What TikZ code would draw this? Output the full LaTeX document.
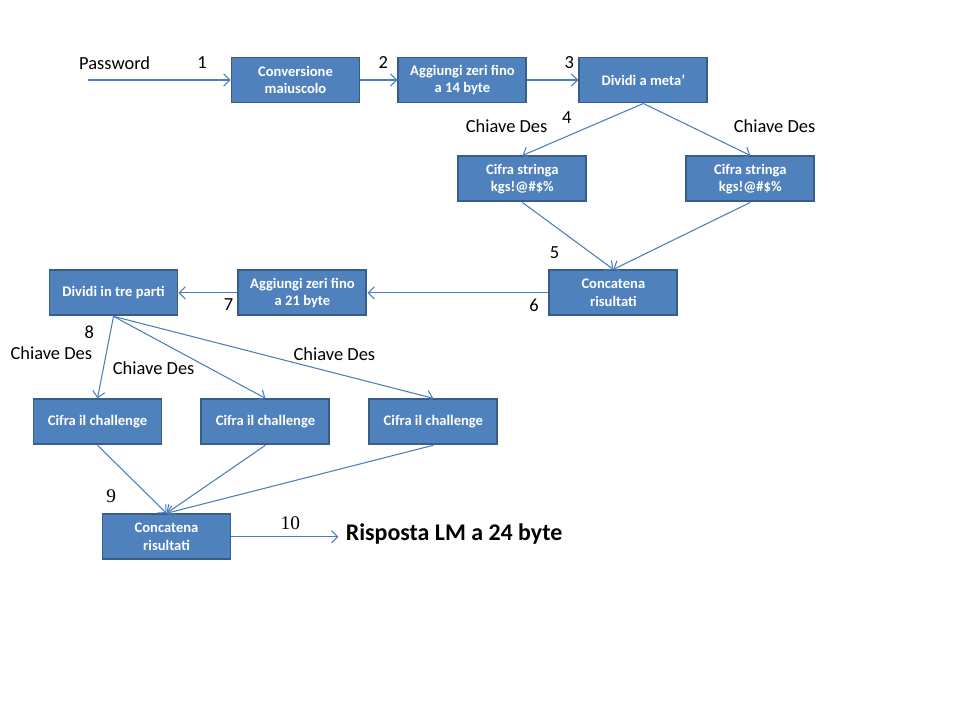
\documentclass[tikz,border=0pt]{standalone}
\usepackage{fontspec}
\setmainfont{Carlito}
\newfontfamily\numserif{Liberation Serif}
\usepackage{tikz}
\usetikzlibrary{positioning, arrows.meta}
\definecolor{boxfill}{HTML}{4F81BD}
\definecolor{boxline}{HTML}{385D8A}
\definecolor{wire}{HTML}{4A7EBB}

\begin{document}
\begin{tikzpicture}[font=\fontsize{10.5}{12}\selectfont,
  blk/.style={draw=boxline,line width=1.1pt,fill=boxfill,text=white,
              font=\fontsize{8.3}{9.8}\selectfont\bfseries,align=center,
              minimum width=2.56cm,minimum height=0.9cm,inner sep=1pt},
  wireto/.style={draw=wire,line width=0.6pt,-{Straight Barb[length=3.5pt,width=7pt]}}]
  \useasboundingbox (0,0) rectangle (19.2,-14.4);
  % first row: password preparation
  \node[blk] at (5.91,-1.6) (conv) {Conversione\\maiuscolo};
  \node[blk, right=0.74cm of conv] (zeri14) {Aggiungi zeri fino\\a 14 byte};
  \node[blk, right=1.02cm of zeri14] (meta) {Dividi a meta'};
  \node[blk, below=1.04cm of meta, xshift=-2.42cm] (cifraL) {Cifra stringa\\kgs!@\#\$\%};
  \node[blk, right=1.96cm of cifraL] (cifraR) {Cifra stringa\\kgs!@\#\$\%};
  \node[blk, below=1.34cm of cifraL, xshift=1.82cm] (conc1) {Concatena\\risultati};
  \node[blk, left=3.62cm of conc1] (zeri21) {Aggiungi zeri fino\\a 21 byte};
  \node[blk, left=1.18cm of zeri21] (tre) {Dividi in tre parti};
  \node[blk, below=1.64cm of tre, xshift=-0.32cm] (chA) {Cifra il challenge};
  \node[blk, right=0.76cm of chA] (chB) {Cifra il challenge};
  \node[blk, right=0.76cm of chB] (chC) {Cifra il challenge};
  \node[blk, below=1.36cm of chA, xshift=1.38cm] (conc2) {Concatena\\risultati};
  \coordinate[left=2.86cm of conv] (pw);
  \coordinate[right=2.14cm of conc2] (resp);
  \node[right=0.14cm of resp, yshift=0.06cm, inner sep=0,
        font=\fontsize{13.6}{16}\selectfont\bfseries] (risposta) {Risposta LM a 24 byte};
  \draw[wireto] (pw) -- (conv)
    node[pos=0.19,yshift=0.34cm]{Password} node[pos=0.8,yshift=0.34cm]{1};
  \draw[wireto] (conv) -- (zeri14) node[pos=0.62,yshift=0.34cm]{2};
  \draw[wireto] (zeri14) -- (meta) node[pos=0.82,yshift=0.34cm]{3};
  \draw[wireto] (meta.south) -- (cifraL.north)
    node[pos=0.6,xshift=-0.08cm,yshift=0.34cm]{4}
    node[pos=0.75,xshift=-0.92cm,yshift=0.32cm]{Chiave Des};
  \draw[wireto] (meta.south) -- (cifraR.north)
    node[pos=0.75,xshift=1.02cm,yshift=0.32cm]{Chiave Des};
  \draw[wireto] (cifraL.south) -- (conc1.north) node[pos=0.75,xshift=-0.72cm]{5};
  \draw[wireto] (cifraR.south) -- (conc1.north);
  \draw[wireto] (conc1) -- (zeri21) node[pos=0.08,yshift=-0.24cm]{6};
  \draw[wireto] (zeri21) -- (tre) node[pos=0.15,yshift=-0.24cm]{7};
  \draw[wireto] (tre.south) -- (chA.north)
    node[pos=0.2,xshift=-0.42cm]{8} node[pos=0.45,xshift=-1.1cm]{Chiave Des};
  \draw[wireto] (tre.south) -- (chB.north)
    node[pos=0.6,xshift=-1.02cm,yshift=-0.06cm]{Chiave Des};
  \draw[wireto] (tre.south) -- (chC.north)
    node[pos=0.5,xshift=1.22cm,yshift=0.07cm]{Chiave Des};
  \draw[wireto] (chA.south) -- (conc2.north)
    node[pos=0.75,xshift=-0.76cm,font=\numserif\fontsize{11}{13}\selectfont]{9};
  \draw[wireto] (chB.south) -- (conc2.north);
  \draw[wireto] (chC.south) -- (conc2.north);
  \draw[wireto] (conc2) -- (resp)
    node[pos=0.55,yshift=0.28cm,font=\numserif\fontsize{11}{13}\selectfont]{10};
\end{tikzpicture}
\end{document}
